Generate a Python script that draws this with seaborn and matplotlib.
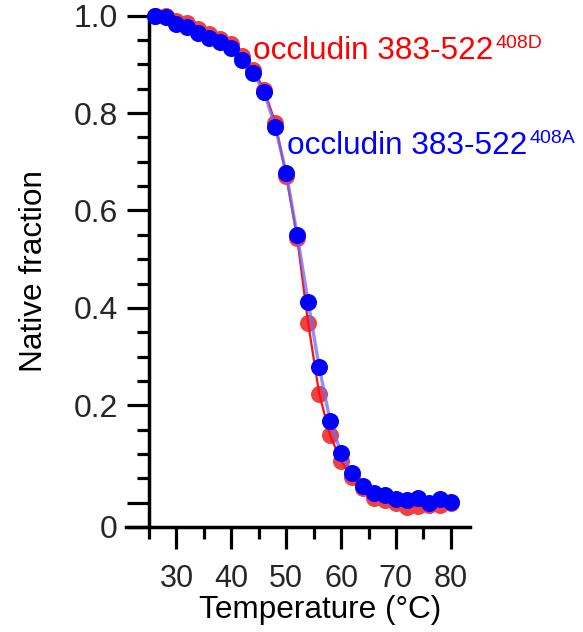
import matplotlib
matplotlib.use("Agg")
import matplotlib.pyplot as plt
import seaborn as sns
import numpy as np
import pandas as pd

# ---- data ----
temperature = [26, 28, 30, 32, 34, 36, 38, 40, 42, 44, 46, 48, 50, 52,
               54, 56, 58, 60, 62, 64, 66, 68, 70, 72, 74, 76, 78, 80]
frac_408D = [1.000, 0.999, 0.990, 0.985, 0.972, 0.962, 0.953, 0.942, 0.917, 0.889,
             0.848, 0.780, 0.671, 0.543, 0.369, 0.224, 0.138, 0.086, 0.052, 0.030,
             0.010, 0.006, 0.000, -0.008, -0.007, -0.005, -0.005, 0.000]
frac_408A = [1.000, 0.998, 0.983, 0.977, 0.964, 0.954, 0.946, 0.934, 0.909, 0.882,
             0.843, 0.771, 0.677, 0.550, 0.412, 0.279, 0.168, 0.102, 0.061, 0.034,
             0.020, 0.016, 0.008, 0.006, 0.010, 0.000, 0.008, 0.001]
label_main = "occludin 383-522"
sup_D = "408D"
sup_A = "408A"
x_major = [30, 40, 50, 60, 70, 80]
x_minor = [25, 35, 45, 55, 65, 75]
y_major = [-0.05, 0.0, 0.2, 0.4, 0.6, 0.8, 1.0]
y_major_labels = ["0", "", "0.2", "0.4", "0.6", "0.8", "1.0"]
y_minor = [0.05, 0.10, 0.15, 0.25, 0.30, 0.35, 0.45, 0.50, 0.55,
           0.65, 0.70, 0.75, 0.85, 0.90, 0.95]

df_D = pd.DataFrame({"T": temperature, "f": frac_408D})
df_A = pd.DataFrame({"T": temperature, "f": frac_408A})

sns.set_style("ticks")
plt.rcParams["font.family"] = ["Liberation Sans", "DejaVu Sans"]

W, H = 583, 632
fig = plt.figure(figsize=(W / 100, H / 100), dpi=100)
ax_l, ax_r, ax_t, ax_b = 126, 470, 15.7, 527
ax = fig.add_axes([ax_l / W, 1 - ax_b / H, (ax_r - ax_l) / W, (ax_b - ax_t) / H])

red_pt = "#F04040"
red_ln = "#FF1010"
blue_pt = "#0000FF"
blue_ln = "#6B6BFF"
ms = 150

sns.scatterplot(data=df_D, x="T", y="f", ax=ax, color=red_pt, s=ms, linewidth=0,
                zorder=2, clip_on=False, legend=False)
sns.lineplot(data=df_D, x="T", y="f", ax=ax, color=red_ln, linewidth=1.6,
             zorder=3, legend=False)
sns.lineplot(data=df_A, x="T", y="f", ax=ax, color=blue_ln, linewidth=2.4, alpha=0.75,
             zorder=4, legend=False)
sns.scatterplot(data=df_A, x="T", y="f", ax=ax, color=blue_pt, s=ms, linewidth=0,
                zorder=5, clip_on=False, legend=False)

ax.set_xlim(20.8, 83.5)
ax.set_ylim(-0.05, 1.0)

for s in ["top", "right"]:
    ax.spines[s].set_visible(False)
ax.spines["left"].set_position(("data", 25))
ax.spines["left"].set_bounds(-0.05, 1.0)
for s in ["left", "bottom"]:
    ax.spines[s].set_linewidth(2.5)
    ax.spines[s].set_color("black")

ax.set_xticks(x_major)
ax.set_xticks(x_minor, minor=True)
ax.set_xticklabels([str(v) for v in x_major])
ax.set_yticks(y_major)
ax.set_yticklabels(y_major_labels)
ax.set_yticks(y_minor, minor=True)

ax.tick_params(axis="both", which="major", length=16, width=2.3, color="black",
               labelcolor="#262626")
ax.tick_params(axis="both", which="minor", length=8.5, width=2.3, color="black")
ax.tick_params(axis="y", which="major", pad=6.5, labelsize=23)
ax.tick_params(axis="x", which="major", pad=10.5, labelsize=22)

ax.set_xlabel("Temperature (°C)", fontsize=22.7, color="black")
ax.set_ylabel("Native fraction", fontsize=22.7, color="black")
ax.xaxis.set_label_coords(0.564, -0.133)
ax.yaxis.set_label_coords(-0.223, 0.5)

# annotations
fs_main, fs_sup = 22.7, 14
t1 = fig.text(253 / W, 1 - 59.3 / H, label_main, color="#FF0000", fontsize=fs_main, va="baseline")
t2 = fig.text(287 / W, 1 - 154 / H, label_main, color="#0000FF", fontsize=fs_main, va="baseline")
fig.canvas.draw()
r = fig.canvas.get_renderer()
for t, sup, col, base in [(t1, sup_D, "#FF0000", 59.3), (t2, sup_A, "#0000FF", 154)]:
    bb = t.get_window_extent(renderer=r)
    fig.text((bb.x1 + 2) / W, 1 - (base - 11) / H, sup, color=col, fontsize=fs_sup, va="baseline")

fig.savefig("out.png", dpi=100)
